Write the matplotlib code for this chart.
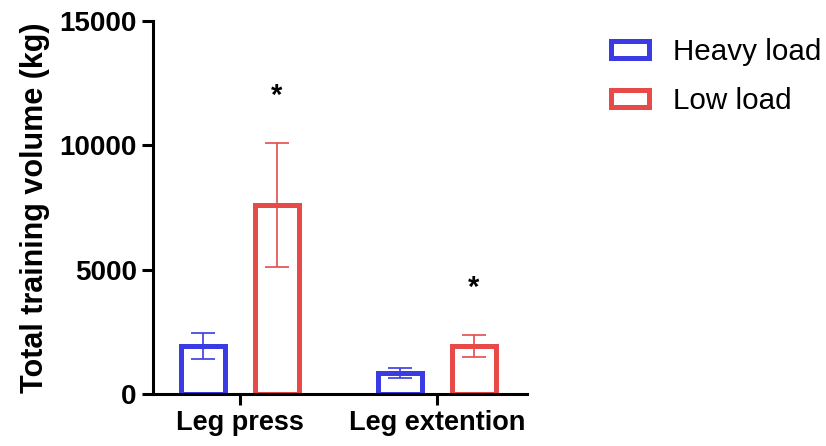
import matplotlib
matplotlib.use("Agg")
import matplotlib.pyplot as plt
import numpy as np

plt.rcParams['font.family'] = ['Liberation Sans', 'DejaVu Sans']

categories = ["Leg press", "Leg extention"]
series = ["Heavy load", "Low load"]
heavy_mean = [1930, 840]
heavy_err = [535, 195]
low_mean = [7600, 1920]
low_err = [2490, 455]
yticks = [0, 5000, 10000, 15000]
colors = ["#3b3be3", "#e84a4a"]

fig = plt.figure(figsize=(8.26, 4.46), dpi=100)
ax = fig.add_axes([0.185, 0.117, 0.453, 0.836])

x = np.arange(len(categories))
off = 0.188
w = 0.222
for i, (m, e, c, lab) in enumerate([(heavy_mean, heavy_err, colors[0], series[0]),
                                     (low_mean, low_err, colors[1], series[1])]):
    xs = x + (-off if i == 0 else off)
    ax.bar(xs, m, width=w, facecolor="white", edgecolor=c, linewidth=3.6, label=lab, zorder=2)
    ax.errorbar(xs, m, yerr=e, fmt="none", ecolor=c, elinewidth=1.2, capsize=8.7, capthick=1.2, zorder=3)

# significance asterisks
for xi, m, e in zip(x + off, low_mean, low_err):
    ax.text(xi, m + e + 1900, "*", ha="center", va="center", fontsize=21, fontweight="bold")

ax.set_xlim(-0.442, 1.457)
ax.set_ylim(0, 15000)
ax.set_yticks(yticks)
ax.set_yticklabels([str(t) for t in yticks])
ax.set_xticks(x)
ax.set_xticklabels(categories)
for s in ["top", "right"]:
    ax.spines[s].set_visible(False)
for s in ["left", "bottom"]:
    ax.spines[s].set_linewidth(2.2)
ax.tick_params(axis="both", width=2.2, length=8, labelsize=19.5)
ax.tick_params(axis="y", labelsize=20)
for lbl in ax.get_xticklabels() + ax.get_yticklabels():
    lbl.set_fontweight("bold")
ax.set_ylabel("Total training volume (kg)", fontsize=22, fontweight="bold", labelpad=7)

handles, labels = ax.get_legend_handles_labels()
leg = fig.legend(handles, labels, loc="upper left", bbox_to_anchor=(0.708, 0.975),
                 frameon=False, fontsize=21.3, handlelength=1.28, handleheight=0.5,
                 handletextpad=0.8, labelspacing=0.72)

fig.savefig("out.png", dpi=100)
